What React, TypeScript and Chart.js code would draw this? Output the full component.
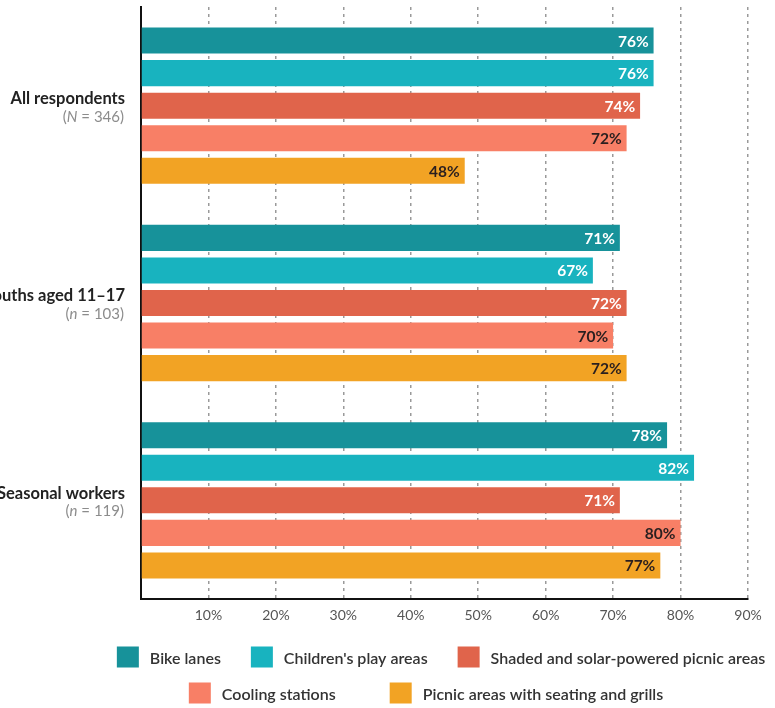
import React, { useEffect, useRef } from "react";
import { Chart, registerables } from "chart.js";

Chart.register(...registerables);

// Survey groups (y axis) and their sample sizes
const categories = ["All respondents", "Youths aged 11–17", "Seasonal workers"];
const sampleSymbols = ["N", "n", "n"];
const sampleSizes = [346, 103, 119];

// Share of each group supporting each amenity (%)
const seriesNames = [
  "Bike lanes",
  "Children's play areas",
  "Shaded and solar-powered picnic areas",
  "Cooling stations",
  "Picnic areas with seating and grills",
];
const bikeLanes = [76, 71, 78];
const playAreas = [76, 67, 82];
const shadedPicnic = [74, 72, 71];
const coolingStations = [72, 70, 80];
const picnicGrills = [48, 72, 77];

const seriesColors = ["#17929a", "#18b3bf", "#e0644b", "#f87f66", "#f2a324"];
const valueLabelColors = ["#ffffff", "#ffffff", "#ffffff", "#2a1f1f", "#2a1f1f"];

// x axis range in percent
const xMin = 0;
const xMax = 90;
const xStep = 10;

// legend rows (indexes into seriesNames), each row's centre, baseline and item spacing
const legendRows = [[0, 1, 2], [3, 4]];
const legendRowCenters = [441, 426];
const legendRowY = [657, 693];
const legendRowGaps = [30, 54];

const FONT = "Lato, 'Open Sans', sans-serif";

const valueLabelsPlugin = {
  id: "valueLabels",
  afterDatasetsDraw(chart: any) {
    const ctx = chart.ctx;
    ctx.save();
    ctx.font = `bold 15.5px ${FONT}`;
    ctx.textAlign = "right";
    ctx.textBaseline = "middle";
    chart.data.datasets.forEach((ds: any, di: number) => {
      const meta = chart.getDatasetMeta(di);
      meta.data.forEach((bar: any, i: number) => {
        ctx.fillStyle = valueLabelColors[di];
        ctx.fillText(`${ds.data[i]}%`, bar.x - 5, bar.y + 1);
      });
    });
    ctx.restore();
  },
};

const categoryLabelsPlugin = {
  id: "categoryLabels",
  afterDraw(chart: any) {
    const ctx = chart.ctx;
    const yScale = chart.scales.y;
    const right = yScale.right - 16;
    ctx.save();
    ctx.textAlign = "right";
    ctx.textBaseline = "middle";
    categories.forEach((name, i) => {
      const y = yScale.getPixelForValue(i);
      ctx.font = `bold 16.5px ${FONT}`;
      ctx.fillStyle = "#222222";
      ctx.fillText(name, right, y - 7);

      // "(N = 346)" with italic symbol
      const tail = ` = ${sampleSizes[i]})`;
      ctx.font = `15px ${FONT}`;
      ctx.fillStyle = "#8c8c8c";
      const tailW = ctx.measureText(tail).width;
      ctx.fillText(tail, right - 1, y + 11);
      ctx.font = `italic 15px ${FONT}`;
      const symW = ctx.measureText(sampleSymbols[i]).width;
      ctx.fillText(sampleSymbols[i], right - 1 - tailW, y + 11);
      ctx.font = `15px ${FONT}`;
      ctx.fillText("(", right - 1 - tailW - symW, y + 11);
    });
    ctx.restore();
  },
};

const legendPlugin = {
  id: "rowLegend",
  afterDraw(chart: any) {
    const ctx = chart.ctx;
    const boxW = 22;
    const boxH = 21;
    const gap = 11;
    ctx.save();
    ctx.font = `600 16px ${FONT}`;
    ctx.textBaseline = "middle";
    ctx.textAlign = "left";
    legendRows.forEach((row, r) => {
      const itemGap = legendRowGaps[r];
      const widths = row.map((k) => boxW + gap + ctx.measureText(chart.data.datasets[k].label).width);
      const total = widths.reduce((a, b) => a + b, 0) + itemGap * (row.length - 1);
      let x = legendRowCenters[r] - total / 2;
      const y = legendRowY[r];
      row.forEach((k, j) => {
        const ds = chart.data.datasets[k];
        ctx.fillStyle = ds.backgroundColor;
        ctx.fillRect(x, y - boxH / 2, boxW, boxH);
        ctx.fillStyle = "#333333";
        ctx.fillText(ds.label, x + boxW + gap, y + 2);
        x += widths[j] + itemGap;
      });
    });
    ctx.restore();
  },
};

export default function App() {
  const canvasRef = useRef<HTMLCanvasElement | null>(null);

  useEffect(() => {
    if (!canvasRef.current) return;
    const values = [bikeLanes, playAreas, shadedPicnic, coolingStations, picnicGrills];
    const chart = new Chart(canvasRef.current, {
      type: "bar",
      data: {
        labels: categories,
        datasets: seriesNames.map((name, i) => ({
          label: name,
          data: values[i],
          backgroundColor: seriesColors[i],
          borderWidth: 0,
          barPercentage: 0.8,
          categoryPercentage: 0.825,
        })),
      },
      options: {
        indexAxis: "y",
        responsive: false,
        animation: false,
        layout: { padding: { top: 7, right: 27, left: 0, bottom: 0 } },
        plugins: {
          legend: { display: false },
          tooltip: { enabled: false },
        },
        scales: {
          x: {
            min: xMin,
            max: xMax,
            ticks: {
              stepSize: xStep,
              padding: 8,
              color: "#555555",
              font: { family: FONT, size: 14 },
              callback: (v: any) => (Number(v) === 0 ? "" : `${v}%`),
            },
            grid: {
              color: "#9a9a9a",
              lineWidth: 1.5,
              drawTicks: false,
            },
            border: { display: true, color: "#111111", width: 2, dash: [3, 4] },
            afterFit: (scale: any) => {
              scale.height = 109;
            },
          },
          y: {
            grid: { display: false },
            ticks: { display: false },
            border: { display: true, color: "#111111", width: 2 },
            afterFit: (scale: any) => {
              scale.width = 141;
            },
          },
        },
      },
      plugins: [valueLabelsPlugin, categoryLabelsPlugin, legendPlugin],
    });
    return () => chart.destroy();
  }, []);

  return (
    <div style={{ position: "absolute", left: 0, top: 0, width: 775, height: 708, background: "#ffffff" }}>
      <canvas ref={canvasRef} width={775} height={708} />
    </div>
  );
}
